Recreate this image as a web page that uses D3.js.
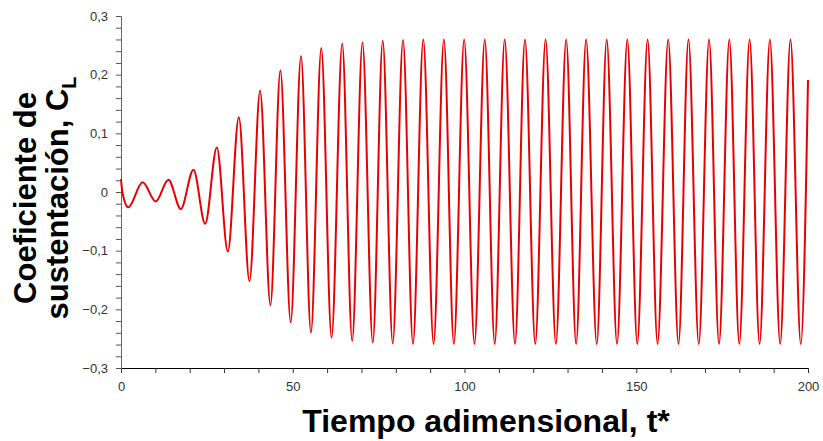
<!DOCTYPE html>
<html>
<head>
<meta charset="utf-8">
<script src="https://cdn.jsdelivr.net/npm/d3@7"></script>
<style>
  body { margin: 0; background: #fff; }
  svg { display: block; font-family: "Liberation Sans", Arial, sans-serif; }
</style>
</head>
<body>
<script>
// extrema of the lift coefficient (time, value)
var startT = [0, 0.4];
var startV = [0.022, 0.0];

var peakT = [6.3, 13.8, 21.1, 27.9, 34.3, 40.5, 46.4, 52.4, 58.3, 64.4,
  70.3, 76.2, 82.1, 88.0, 94.0, 99.9, 105.9, 111.7, 117.6, 123.6,
  129.6, 135.4, 141.4, 147.4, 153.3, 159.3, 165.2, 171.2, 177.1, 183.0,
  188.9, 194.9];
var peakV = [0.0165, 0.021, 0.038, 0.076, 0.1275, 0.173, 0.207, 0.232, 0.2455, 0.253,
  0.255, 0.258, 0.259, 0.26, 0.26, 0.26, 0.26, 0.26, 0.26, 0.26,
  0.26, 0.26, 0.26, 0.26, 0.26, 0.26, 0.26, 0.26, 0.26, 0.26,
  0.26, 0.26];

var troughT = [2.1, 10.1, 17.4, 24.5, 31.1, 37.4, 43.5, 49.4, 55.3, 61.3,
  67.3, 73.3, 79.1, 85.0, 91.0, 96.9, 102.9, 108.8, 114.7, 120.6,
  126.6, 132.5, 138.5, 144.4, 150.3, 156.2, 162.3, 168.2, 174.1, 180.0,
  185.9, 191.9, 197.9];
var troughV = [-0.026, -0.016, -0.029, -0.054, -0.1015, -0.152, -0.193, -0.222, -0.240, -0.2485,
  -0.254, -0.257, -0.258, -0.259, -0.259, -0.259, -0.259, -0.259, -0.259, -0.259,
  -0.259, -0.259, -0.259, -0.259, -0.259, -0.259, -0.259, -0.259, -0.259, -0.259,
  -0.259, -0.259, -0.259];

var endT = [200];
var endV = [0.191];

var xTicks = [0, 50, 100, 150, 200];
var yTicks = [-0.3, -0.2, -0.1, 0, 0.1, 0.2, 0.3];

var width = 823, height = 441;
var margin = {left: 121, right: 15, top: 16, bottom: 73};

var pts = [];
startT.forEach(function(t, i) { pts.push([t, startV[i]]); });
peakT.forEach(function(t, i) { pts.push([t, peakV[i]]); });
troughT.forEach(function(t, i) { pts.push([t, troughV[i]]); });
endT.forEach(function(t, i) { pts.push([t, endV[i]]); });
pts.sort(function(a, b) { return a[0] - b[0]; });

var svg = d3.select("body").append("svg")
  .attr("width", width)
  .attr("height", height);

var x = d3.scaleLinear().domain([0, 200]).range([margin.left, width - margin.right]);
var y = d3.scaleLinear().domain([-0.3, 0.3]).range([height - margin.bottom, margin.top]);

var comma = function(d) { return d === 0 ? "0" : d3.format(".1f")(d).replace(".", ","); };

// minor ticks
svg.append("g")
  .attr("transform", "translate(0," + y(-0.3) + ")")
  .call(d3.axisBottom(x).tickValues(d3.range(0, 201, 10)).tickSize(5).tickFormat(""))
  .call(function(g) { g.select(".domain").attr("stroke", "#000"); g.selectAll("line").attr("stroke", "#333"); });

svg.append("g")
  .attr("transform", "translate(" + x(0) + ",0)")
  .call(d3.axisLeft(y).tickValues(d3.range(-15, 16).map(function(d) { return d * 0.02; })).tickSize(5).tickFormat(""))
  .call(function(g) { g.select(".domain").attr("stroke", "#666"); g.selectAll("line").attr("stroke", "#555"); });

// labels
svg.append("g")
  .attr("transform", "translate(0," + y(-0.3) + ")")
  .call(d3.axisBottom(x).tickValues(xTicks).tickSize(0).tickPadding(14).tickFormat(d3.format("d")))
  .call(function(g) {
    g.select(".domain").remove();
    g.selectAll("text").attr("font-size", 13).attr("fill", "#333").attr("font-family", "Liberation Sans, Arial, sans-serif");
  });

svg.append("g")
  .attr("transform", "translate(" + x(0) + ",0)")
  .call(d3.axisLeft(y).tickValues(yTicks).tickSize(0).tickPadding(13).tickFormat(comma))
  .call(function(g) {
    g.select(".domain").remove();
    g.selectAll("text").attr("font-size", 13).attr("fill", "#333").attr("font-family", "Liberation Sans, Arial, sans-serif");
  });

var line = d3.line()
  .x(function(d) { return x(d[0]); })
  .y(function(d) { return y(d[1]); })
  .curve(d3.curveMonotoneX);

svg.append("path")
  .datum(pts)
  .attr("fill", "none")
  .attr("stroke", "#e60000")
  .attr("stroke-width", 2)
  .attr("d", line);

// axis titles
svg.append("text")
  .attr("x", 486)
  .attr("y", 432)
  .attr("text-anchor", "middle")
  .attr("font-size", 32)
  .attr("font-weight", "bold")
  .text("Tiempo adimensional, t*");

var yt = svg.append("text")
  .attr("transform", "translate(0,198) rotate(-90)")
  .attr("text-anchor", "middle")
  .attr("font-size", 31)
  .attr("font-weight", "bold");
yt.append("tspan").attr("x", 0).attr("y", 36).text("Coeficiente de");
yt.append("tspan").attr("x", 0).attr("y", 68).text("sustentación, C");
yt.append("tspan").attr("font-size", 20).attr("dy", 8).text("L");
</script>
</body>
</html>
